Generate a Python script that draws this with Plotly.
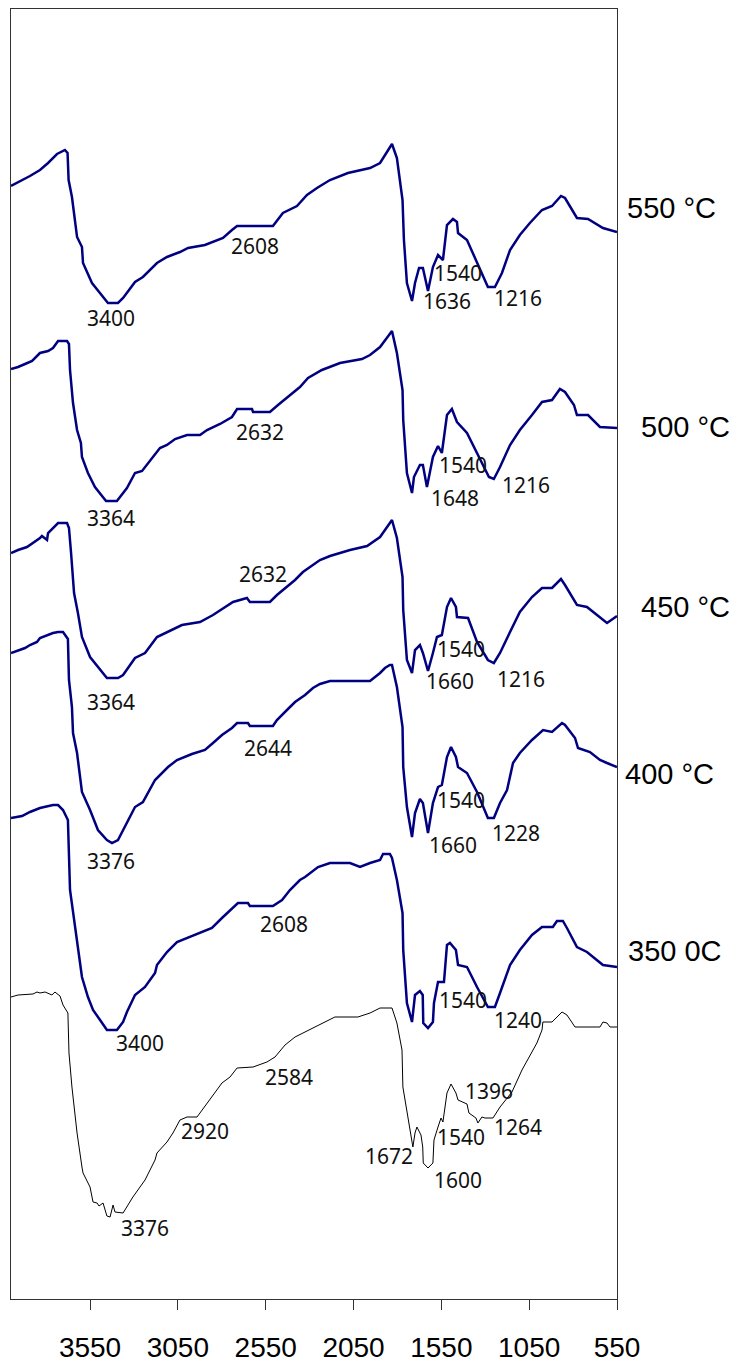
import plotly.graph_objects as go

# (wavenumber cm-1, transmittance in arbitrary stacked units)
spec_550 = [(4000,1113),(3968,1116),(3920,1120),(3892,1123),(3835,1129),(3789,1136),(3738,1145),(3693,1149),(3678,1146),(3672,1119),(3653,1102),(3636,1079),(3624,1062),(3596,1052),(3590,1036),(3539,1016),(3448,996),(3391,996),(3362,1001),(3294,1017),(3249,1022),(3169,1036),(3112,1042),(3038,1047),(2992,1051),(2896,1054),(2793,1061),(2742,1069),(2713,1073),(2509,1073),(2452,1086),(2372,1093),(2315,1104),(2258,1111),(2184,1119),(2082,1126),(1956,1131),(1899,1136),(1831,1155),(1803,1141),(1771,1099),(1763,1059),(1746,1016),(1717,998),(1700,1016),(1677,1031),(1655,1031),(1626,1008),(1598,1032),(1569,1044),(1541,1039),(1518,1074),(1484,1080),(1461,1077),(1455,1066),(1404,1059),(1342,1034),(1285,1012),(1245,1012),(1205,1026),(1159,1049),(1103,1064),(1046,1076),(977,1089),(920,1093),(869,1103),(846,1101),(778,1081),(715,1080),(630,1071),(550,1067)]

spec_500 = [(4000,930),(3960,932),(3920,935),(3880,938),(3835,946),(3789,948),(3761,951),(3732,958),(3681,958),(3670,955),(3664,929),(3647,896),(3624,869),(3602,856),(3596,842),(3562,826),(3522,812),(3476,802),(3459,798),(3397,798),(3362,806),(3340,811),(3294,826),(3254,828),(3152,851),(3112,854),(3066,860),(2998,864),(2924,864),(2884,869),(2810,875),(2742,882),(2713,890),(2628,890),(2622,887),(2526,887),(2480,894),(2412,904),(2355,912),(2309,921),(2230,929),(2127,936),(2002,940),(1956,944),(1899,952),(1831,968),(1803,946),(1771,909),(1767,879),(1746,826),(1717,806),(1706,822),(1672,834),(1655,834),(1632,812),(1598,842),(1569,853),(1547,846),(1518,884),(1490,890),(1461,877),(1404,866),(1342,844),(1279,822),(1251,820),(1216,832),(1159,854),(1103,869),(1034,884),(977,897),(920,899),(875,910),(846,907),(795,894),(778,884),(715,884),(647,872),(550,871)]

spec_450 = [(4000,746),(3960,749),(3909,752),(3875,756),(3835,761),(3824,763),(3795,759),(3789,766),(3732,776),(3681,776),(3670,771),(3658,746),(3641,706),(3619,686),(3596,662),(3550,642),(3493,629),(3454,621),(3391,621),(3362,624),(3294,641),(3237,646),(3169,662),(3112,667),(3027,674),(2924,677),(2850,684),(2736,697),(2657,701),(2640,697),(2526,697),(2486,704),(2383,719),(2338,727),(2241,739),(2184,743),(2070,749),(1973,753),(1899,762),(1831,779),(1803,761),(1771,722),(1767,689),(1746,639),(1717,626),(1700,649),(1672,654),(1655,646),(1626,628),(1598,646),(1575,662),(1547,664),(1518,692),(1495,701),(1467,692),(1461,682),(1398,681),(1347,657),(1285,639),(1251,636),(1216,646),(1159,667),(1103,687),(1034,702),(977,711),(920,711),(869,720),(846,714),(778,694),(721,692),(647,681),(607,676),(550,683)]

spec_400 = [(4000,646),(3970,648),(3920,651),(3892,654),(3852,657),(3835,661),(3789,664),(3761,666),(3732,667),(3704,667),(3676,660),(3670,619),(3653,592),(3647,566),(3624,546),(3596,507),(3550,489),(3505,469),(3454,459),(3425,456),(3391,459),(3351,472),(3294,492),(3249,497),(3180,519),(3106,532),(3055,539),(2970,545),(2896,549),(2850,556),(2799,564),(2742,571),(2713,576),(2651,576),(2640,573),(2509,573),(2486,579),(2429,589),(2383,597),(2326,604),(2281,611),(2241,615),(2184,618),(1956,618),(1899,626),(1871,631),(1843,634),(1831,634),(1803,612),(1771,572),(1767,532),(1746,492),(1717,462),(1700,486),(1672,500),(1655,496),(1626,466),(1598,496),(1569,512),(1547,514),(1518,542),(1495,552),(1467,542),(1455,532),(1404,526),(1347,507),(1285,481),(1251,481),(1216,496),(1176,509),(1142,536),(1103,546),(1034,559),(971,569),(920,567),(863,576),(846,574),(789,561),(772,551),(704,547),(647,539),(607,536),(550,532)]

spec_350 = [(4000,481),(3937,483),(3892,487),(3835,491),(3761,494),(3732,494),(3704,489),(3676,479),(3664,409),(3624,356),(3596,322),(3562,302),(3533,289),(3493,279),(3454,269),(3397,269),(3362,277),(3340,287),(3294,304),(3237,312),(3180,326),(3169,334),(3112,347),(3055,357),(2981,362),(2924,366),(2856,371),(2799,381),(2736,391),(2708,396),(2651,396),(2640,393),(2509,393),(2457,399),(2412,409),(2355,419),(2326,422),(2252,432),(2184,436),(2070,436),(2013,432),(1956,436),(1899,439),(1882,445),(1843,445),(1831,441),(1803,419),(1771,386),(1767,349),(1746,296),(1717,277),(1700,304),(1672,308),(1656,304),(1653,276),(1626,271),(1598,277),(1592,296),(1569,317),(1535,317),(1518,354),(1501,356),(1467,349),(1455,334),(1404,332),(1347,312),(1285,292),(1245,292),(1216,306),(1159,334),(1103,349),(1034,364),(977,372),(915,372),(892,378),(858,378),(835,371),(778,352),(721,347),(664,339),(630,334),(550,332)]

spec_raw = [(4000,302),(3960,304),(3875,305),(3852,307),(3835,306),(3806,307),(3767,304),(3750,307),(3721,303),(3704,294),(3676,286),(3670,246),(3653,212),(3624,166),(3596,132),(3590,126),(3550,112),(3533,97),(3510,96),(3499,93),(3476,96),(3454,83),(3436,82),(3419,94),(3408,87),(3362,86),(3306,102),(3237,119),(3180,139),(3169,146),(3112,157),(3078,166),(3038,179),(2998,182),(2941,182),(2924,186),(2856,202),(2799,216),(2753,222),(2713,231),(2622,232),(2543,237),(2497,242),(2440,254),(2383,262),(2326,267),(2269,272),(2213,277),(2156,282),(2025,282),(1956,286),(1899,291),(1831,291),(1803,276),(1774,249),(1769,212),(1746,186),(1729,169),(1712,152),(1700,166),(1689,172),(1666,164),(1656,152),(1653,136),(1626,131),(1598,136),(1592,159),(1569,172),(1552,181),(1541,177),(1518,206),(1495,215),(1467,206),(1455,199),(1404,195),(1393,186),(1353,181),(1342,176),(1319,182),(1302,181),(1256,181),(1216,192),(1148,207),(1091,229),(1046,244),(1006,256),(977,269),(972,277),(920,277),(863,287),(835,284),(789,272),(647,272),(630,277),(607,276),(590,272),(550,272)]

# peak labels: (text, wavenumber position, transmittance position)
peak_labels = [
    ("3400", 3431, 981), ("2608", 2611, 1053), ("1540", 1455, 1026), ("1636", 1518, 998), ("1216", 1114, 1001),
    ("3364", 3431, 781), ("2632", 2583, 867), ("1540", 1427, 834), ("1648", 1473, 801), ("1216", 1068, 814),
    ("3364", 3431, 597), ("2632", 2565, 725), ("1540", 1438, 650), ("1660", 1501, 618), ("1216", 1097, 620),
    ("3376", 3431, 438), ("2644", 2537, 551), ("1540", 1438, 499), ("1660", 1484, 454), ("1228", 1125, 466),
    ("3400", 3266, 256), ("2608", 2446, 375), ("1540", 1427, 299), ("1240", 1114, 279),
    ("3376", 3237, 71), ("2920", 2896, 168), ("2584", 2417, 222), ("1672", 1848, 143), ("1600", 1455, 119),
    ("1540", 1438, 162), ("1396", 1279, 208), ("1264", 1114, 172),
]

# temperature labels: (text, transmittance position)
temp_labels = [("550 \u00b0C", 1091), ("500 \u00b0C", 872), ("450 \u00b0C", 692), ("400 \u00b0C", 525), ("350 0C", 348)]
temp_label_x = [1.0132, 1.0363, 1.0363, 1.0099, 1.0149]

tick_vals = [3550, 3050, 2550, 2050, 1550, 1050, 550]
tick_text = ["3550", "3050", "2550", "2050", "1550", "1050", "550"]

fig = go.Figure()
navy = "#000080"
for spec in [spec_550, spec_500, spec_450, spec_400, spec_350]:
    fig.add_trace(go.Scatter(x=[p[0] for p in spec], y=[p[1] for p in spec], mode="lines",
                             line=dict(color=navy, width=2.5), hoverinfo="skip", showlegend=False))
fig.add_trace(go.Scatter(x=[p[0] for p in spec_raw], y=[p[1] for p in spec_raw], mode="lines",
                         line=dict(color="#000000", width=1), hoverinfo="skip", showlegend=False))

for text, wn, t in peak_labels:
    fig.add_annotation(x=wn, y=t, xref="x", yref="y", text=text, showarrow=False,
                       xanchor="center", yanchor="middle",
                       font=dict(family="Noto Sans, DejaVu Sans", size=21, color="#111111"))

for (text, t), px in zip(temp_labels, temp_label_x):
    fig.add_annotation(x=px, y=t, xref="paper", yref="y", text=text, showarrow=False,
                       xanchor="left", yanchor="middle",
                       font=dict(family="Liberation Sans, Arial", size=29, color="#000000"))

fig.update_layout(
    width=731, height=1365,
    margin=dict(l=11, r=114, t=9, b=66),
    paper_bgcolor="white", plot_bgcolor="white",
    xaxis=dict(range=[4000, 550], tickvals=tick_vals, ticktext=tick_text,
               ticks="outside", ticklen=10, tickcolor="#333333", tickwidth=1,
               showline=True, mirror=True, linecolor="#333333", linewidth=1,
               showgrid=False, zeroline=False, ticklabelstandoff=13, automargin=False,
               tickfont=dict(family="Liberation Sans, Arial", size=28, color="#000000")),
    yaxis=dict(range=[0, 1290], showticklabels=False, ticks="", showgrid=False, zeroline=False,
               showline=True, mirror=True, linecolor="#333333", linewidth=1, automargin=False),
)

fig.write_html("out.html")
